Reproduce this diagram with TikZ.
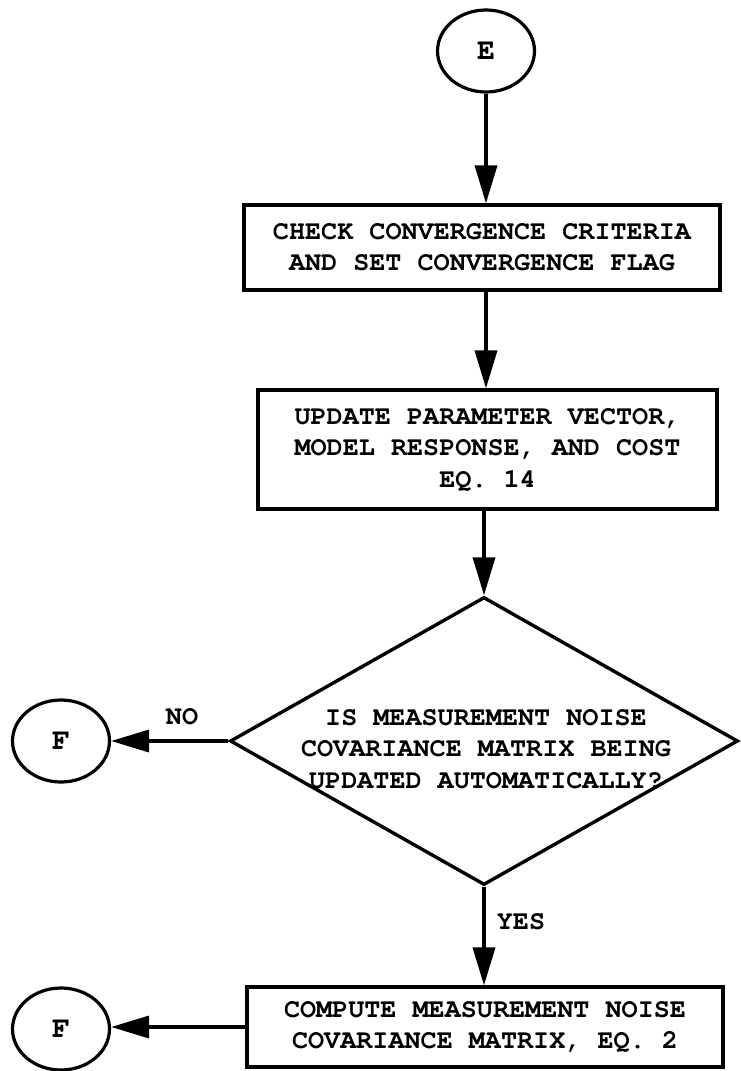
\documentclass[tikz,border=0pt]{standalone}
\usepackage[T1]{fontenc}
\usepackage{courier}
\usetikzlibrary{shapes.geometric,arrows.meta}
\tikzset{
  conn/.style={ellipse,draw,line width=3.2pt,minimum width=97pt,minimum height=82pt,inner sep=0pt,
    font=\ttfamily\bfseries\fontsize{30}{32}\selectfont},
  procbox/.style={rectangle,draw,line width=3.2pt,align=center,inner sep=0pt},
  decision/.style={diamond,draw,line width=3.4pt,inner sep=0pt},
  flow/.style={line width=3.6pt,-{Triangle[length=38pt,width=22pt]}},
  lbl/.style={inner sep=0pt}
}
\begin{document}
\begin{tikzpicture}[x=1pt,y=-1pt,font=\ttfamily\bfseries\fontsize{26.8}{31.5}\selectfont]
  \useasboundingbox (0,0) rectangle (740,1071);

  % connectors and process steps
  \node[conn] (E) at (486,51) {E};
  \node[procbox,minimum width=476pt,minimum height=85pt] (check) at (482,247.5)
    {CHECK CONVERGENCE CRITERIA\\AND SET CONVERGENCE FLAG};
  \node[procbox,minimum width=459pt,minimum height=119pt] (update) at (487.5,449.5)
    {UPDATE PARAMETER VECTOR,\\MODEL RESPONSE, AND COST\\EQ. 14};

  % decision diamond with its question written across it
  \node[decision,minimum width=508pt,minimum height=288pt] (ask) at (484,741) {};
  \node[lbl,align=center] (asktext) at (486,749)
    {IS MEASUREMENT NOISE\\COVARIANCE MATRIX BEING\\UPDATED AUTOMATICALLY?};

  \node[conn] (F1) at (61,741) {F};
  \node[procbox,minimum width=476pt,minimum height=80pt] (noise) at (485,1027)
    {COMPUTE MEASUREMENT NOISE\\COVARIANCE MATRIX, EQ. 2};
  \node[conn] (F2) at (61,1029) {F};

  % branch labels
  \node[lbl] (no) at (182,717) {NO};
  \node[lbl] (yes) at (521,922) {YES};

  % flow lines
  \draw[flow] (E.south) -- (E.south |- check.north);
  \draw[flow] (check.south -| E.south) -- (E.south |- update.north);
  \draw[flow] (update.south -| ask.north) -- (ask.north);
  \draw[flow] (ask.west) -- (ask.west -| F1.east);
  \draw[flow] (ask.south) -- (ask.south |- noise.north);
  \draw[flow] (noise.west) -- (noise.west -| F2.east);
\end{tikzpicture}
\end{document}
